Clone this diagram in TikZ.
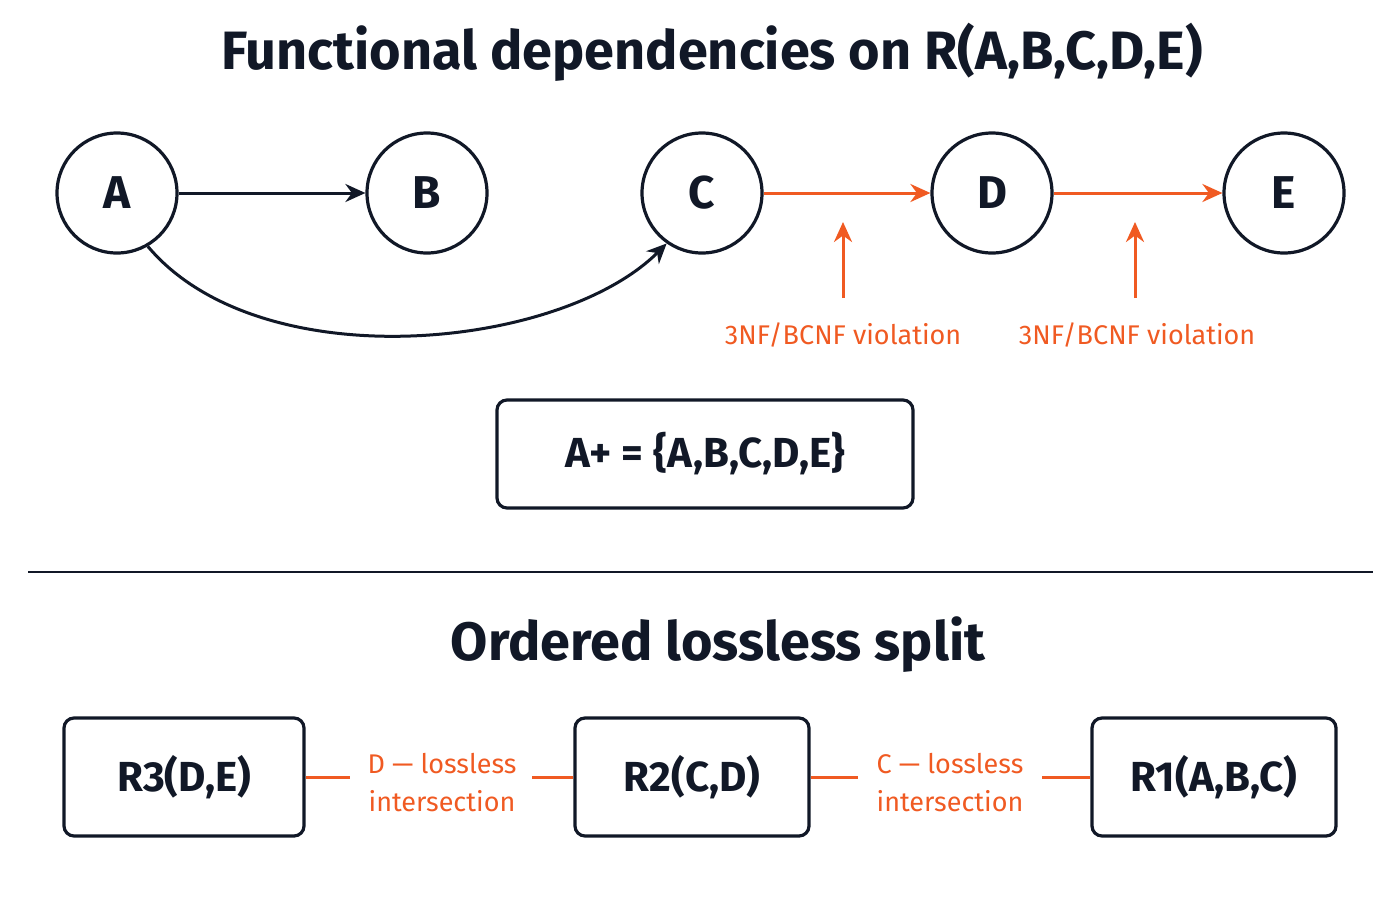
\documentclass[tikz,border=0pt]{standalone}
\usepackage{fontspec}
\setmainfont{Fira Sans}
\usetikzlibrary{arrows.meta}
\definecolor{ink}{HTML}{111827}
\definecolor{org}{HTML}{F05A22}
\begin{document}
\begin{tikzpicture}[x=0.5pt,y=-0.5pt,
  vx/.style={circle,draw=ink,line width=1.6pt,minimum size=60pt,inner sep=0pt,font=\fontsize{23}{26}\selectfont\bfseries,text=ink},
  rbox/.style={draw=ink,line width=1.6pt,rounded corners=5pt,inner sep=0pt,font=\fontsize{21}{24}\selectfont\bfseries,text=ink},
  blk/.style={draw=ink,line width=1.5pt,-{Stealth[length=10pt,width=9pt]}},
  oar/.style={draw=org,line width=1.5pt,-{Stealth[length=10pt,width=9pt]}},
  olab/.style={text=org,font=\fontsize{13.5}{19}\selectfont,align=center},
  ttl/.style={text=ink,font=\fontsize{27}{30}\selectfont\bfseries}]
\useasboundingbox (0,0) rectangle (1400,900);
\node[ttl] (t1) at (712,52) {Functional dependencies on R(A,B,C,D,E)};
\node[vx] (A) at (117,193) {A};
\node[vx] (B) at (427,193) {B};
\node[vx] (C) at (702,193) {C};
\node[vx] (D) at (992,193) {D};
\node[vx] (E) at (1284,193) {E};
\draw[blk] (A) -- (B);
\draw[blk] (A.-60) .. controls (260,380) and (560,350) .. (C.-125);
\draw[oar] (C) -- (D);
\draw[oar] (D) -- (E);
\node[olab] (v1) at (843,335) {3NF/BCNF violation};
\node[olab] (v2) at (1137,335) {3NF/BCNF violation};
\coordinate (p1) at (843,222); \coordinate (p2) at (1135,222);
\draw[oar] (p1 |- 0,298) -- (p1);
\draw[oar] (p2 |- 0,298) -- (p2);
\node[rbox,minimum width=208pt,minimum height=54pt] (cl) at (705,454) {A+ = \{A,B,C,D,E\}};
\coordinate (l1) at (28,572); \coordinate (l2) at (1373,572);
\draw[ink,line width=1.3pt] (l1) -- (l2);
\node[ttl] (t2) at (718,645) {Ordered lossless split};
\node[rbox,minimum width=120pt,minimum height=59pt] (R3) at (184,777) {R3(D,E)};
\node[rbox,minimum width=117pt,minimum height=59pt] (R2) at (692,777) {R2(C,D)};
\node[rbox,minimum width=122pt,minimum height=59pt] (R1) at (1214,777) {R1(A,B,C)};
\node[olab] (j1) at (442,783) {D — lossless\\intersection};
\node[olab] (j2) at (950,783) {C — lossless\\intersection};
\draw[org,line width=1.5pt] (R3) -- (350,777);
\draw[org,line width=1.5pt] (532,777) -- (R2);
\draw[org,line width=1.5pt] (R2) -- (858,777);
\draw[org,line width=1.5pt] (1042,777) -- (R1);
\end{tikzpicture}
\end{document}
